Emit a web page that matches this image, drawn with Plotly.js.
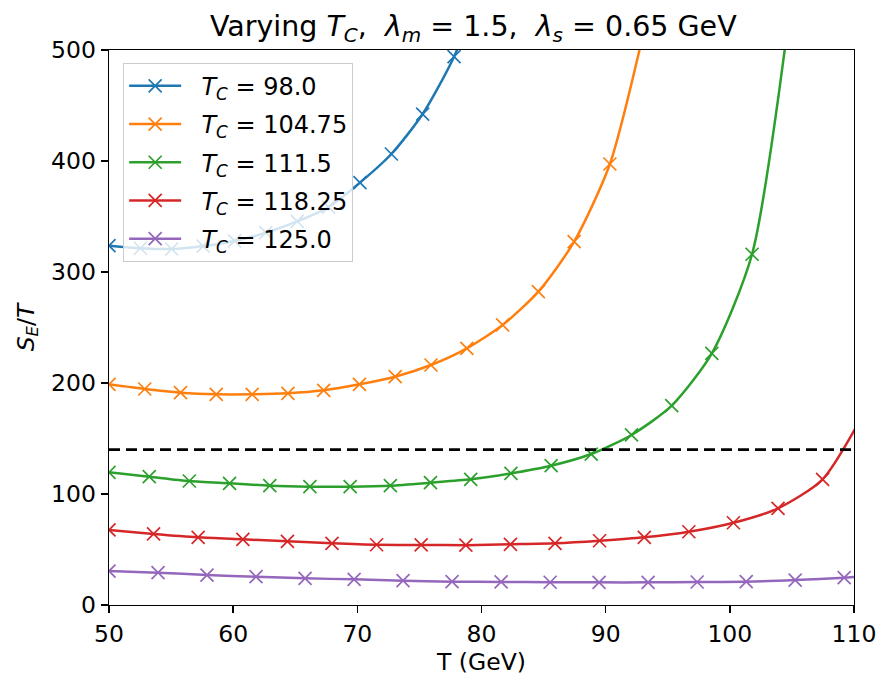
<!DOCTYPE html>
<html>
<head>
<meta charset="utf-8">
<script src="https://cdn.plot.ly/plotly-3.0.1.min.js"></script>
<style>
  html, body { margin: 0; padding: 0; background: #fff; }
  #chart { width: 893px; height: 692px; }
</style>
</head>
<body>
<div id="chart"></div>
<script>
// Bounce action S_E/T versus temperature for several critical temperatures T_C
const tcLabels = ["98.0", "104.75", "111.5", "118.25", "125.0"];
const colors = ["#1f77b4", "#ff7f0e", "#2ca02c", "#d62728", "#9467bd"];

const tBlue = [50.0, 52.53, 55.05, 57.58, 60.11, 62.63, 65.16, 67.68, 70.21, 72.74, 75.26, 77.79, 80.32];
const sBlue = [323.7, 321.4, 320.7, 323.4, 328.0, 335.4, 345.6, 358.5, 380.5, 406.3, 442.3, 494.0, 566.0];

const tOrange = [50.0, 52.88, 55.76, 58.64, 61.53, 64.41, 67.29, 70.17, 73.05, 75.93, 78.82, 81.70, 84.58, 87.46, 90.34, 93.22];
const sOrange = [198.8, 194.6, 191.3, 189.8, 189.8, 190.7, 193.4, 198.8, 205.7, 216.2, 231.2, 252.3, 282.3, 327.3, 397.3, 524.0];

const tGreen = [50.0, 53.24, 56.47, 59.71, 62.95, 66.18, 69.42, 72.66, 75.89, 79.13, 82.37, 85.61, 88.84, 92.08, 95.32, 98.55, 101.79, 105.03];
const sGreen = [119.5, 115.6, 111.7, 109.6, 107.5, 106.6, 106.6, 107.5, 110.2, 113.2, 118.6, 125.5, 136.0, 153.2, 179.6, 226.7, 316.0, 553.0];

const tRed = [50.0, 53.59, 57.18, 60.78, 64.37, 67.96, 71.55, 75.14, 78.74, 82.33, 85.92, 89.51, 93.11, 96.70, 100.29, 103.88, 107.47, 111.07];
const sRed = [67.6, 64.0, 61.0, 59.2, 57.4, 55.6, 54.3, 54.1, 53.9, 54.7, 55.6, 57.9, 61.0, 66.0, 74.1, 87.1, 113.2, 178.6];

const tPurple = [50.0, 53.95, 57.89, 61.84, 65.79, 69.74, 73.68, 77.63, 81.58, 85.53, 89.47, 93.42, 97.37, 101.32, 105.26, 109.21, 113.16];
const sPurple = [30.6, 29.1, 27.0, 25.5, 24.0, 23.1, 21.9, 21.0, 20.8, 20.5, 20.4, 20.4, 20.7, 21.0, 22.5, 24.6, 27.5];

// Nucleation criterion S_E/T ≈ 140
const criterion = 140;
const xRange = [50, 110];
const yRange = [0, 500];
const xTicks = [50, 60, 70, 80, 90, 100, 110];
const yTicks = [0, 100, 200, 300, 400, 500];

const seriesT = [tBlue, tOrange, tGreen, tRed, tPurple];
const seriesS = [sBlue, sOrange, sGreen, sRed, sPurple];

const font = "DejaVu Sans, Verdana, sans-serif";

const traces = seriesT.map((t, i) => ({
  x: t,
  y: seriesS[i],
  mode: "lines+markers",
  type: "scatter",
  legendgroup: "tc" + i,
  name: "\u00a0\u00a0<i>T</i><sub><i>C</i></sub> = " + tcLabels[i],
  line: { color: colors[i], width: 2.5, shape: "spline", smoothing: 0.7 },
  marker: {
    symbol: "x-thin",
    size: 13,
    color: colors[i],
    line: { color: colors[i], width: 1.7 }
  },
  cliponaxis: true
}));

traces.push({
  x: xRange,
  y: [criterion, criterion],
  mode: "lines",
  type: "scatter",
  showlegend: false,
  hoverinfo: "skip",
  line: { color: "#000", width: 2.6, dash: "11px,6px" }
});

const axisCommon = {
  showline: true,
  mirror: true,
  linecolor: "#000",
  linewidth: 1.4,
  ticks: "outside",
  ticklen: 7,
  tickwidth: 1.4,
  tickcolor: "#000",
  showgrid: false,
  zeroline: false,
  tickfont: { family: font, size: 23.5, color: "#000" }
};

const layout = {
  width: 893,
  height: 692,
  paper_bgcolor: "#fff",
  plot_bgcolor: "#fff",
  margin: { l: 109, r: 39, t: 50, b: 87 },
  title: {
    text: "Varying <i>T</i><sub><i>C</i></sub>,  <i>λ</i><sub><i>m</i></sub> = 1.5,  <i>λ</i><sub><i>s</i></sub> = 0.65 GeV",
    font: { family: font, size: 28.5, color: "#000" },
    x: 0.53,
    xanchor: "center",
    y: 0.962,
    yanchor: "middle"
  },
  xaxis: Object.assign({}, axisCommon, {
    range: xRange,
    tickvals: xTicks,
    title: { text: "T (GeV)", font: { family: font, size: 23.5, color: "#000" }, standoff: 6 }
  }),
  yaxis: Object.assign({}, axisCommon, {
    range: yRange,
    tickvals: yTicks,
    title: { text: "<i>S</i><sub><i>E</i></sub>/<i>T</i>", font: { family: font, size: 23.5, color: "#000" }, standoff: 10 }
  }),
  legend: {
    x: 0.019,
    y: 0.977,
    xanchor: "left",
    yanchor: "top",
    bgcolor: "rgba(255,255,255,0.8)",
    bordercolor: "#cccccc",
    borderwidth: 1,
    itemwidth: 52,
    tracegroupgap: 4,
    font: { family: font, size: 24, color: "#000" }
  },
  showlegend: true
};

Plotly.newPlot("chart", traces, layout, { staticPlot: true, displayModeBar: false });
</script>
</body>
</html>
